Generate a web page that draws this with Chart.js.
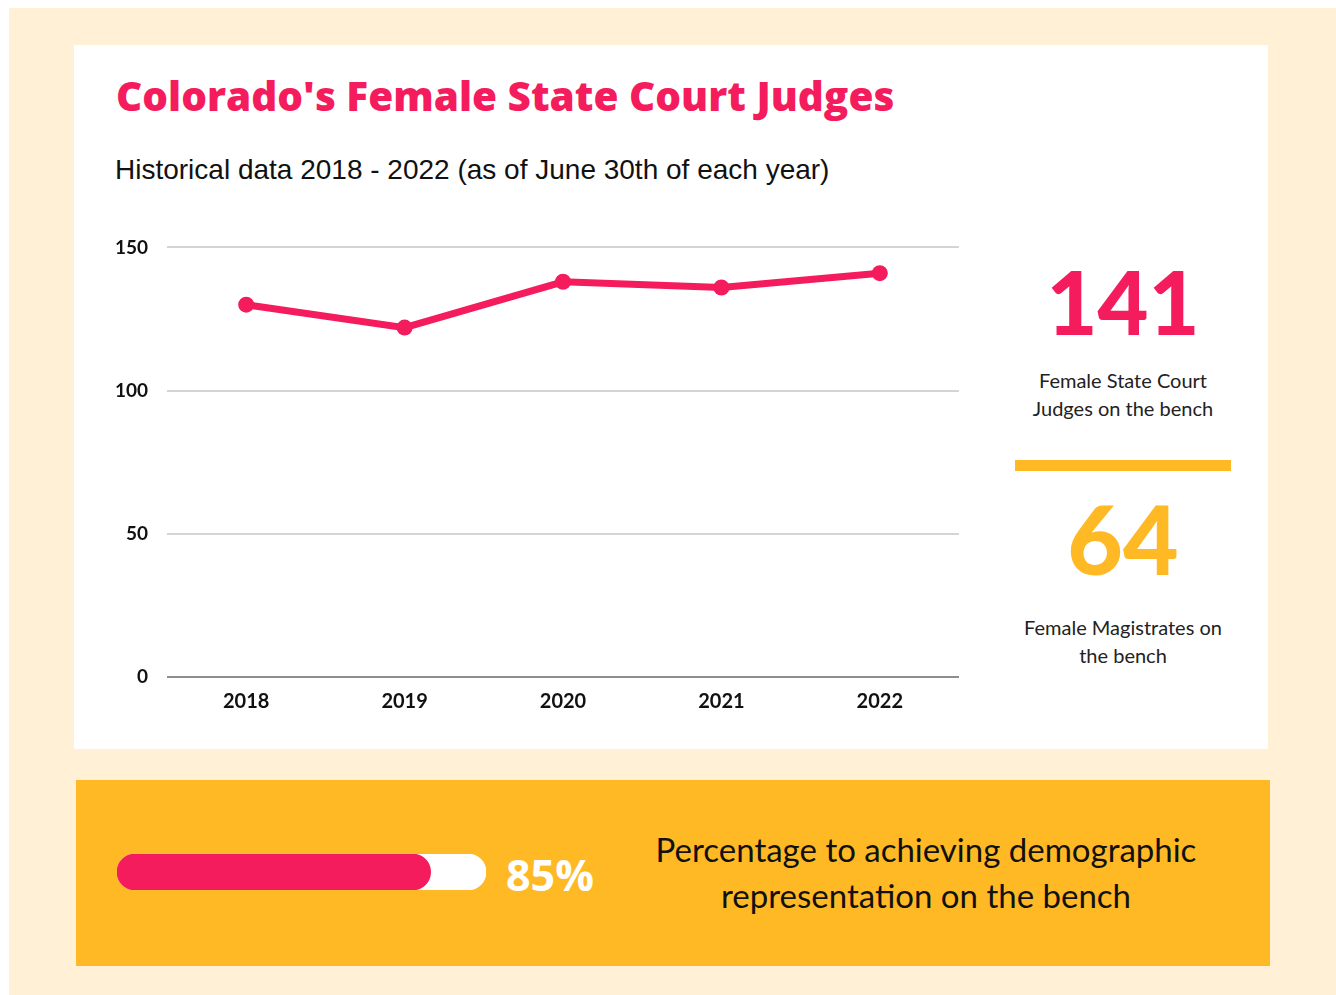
<!DOCTYPE html>
<html>
<head>
<meta charset="utf-8">
<script src="https://cdn.jsdelivr.net/npm/chart.js@4.4.0/dist/chart.umd.min.js"></script>
<style>
    body { margin: 0; background: #ffffff; width: 1336px; height: 995px; position: relative; overflow: hidden; }
    .cream { position: absolute; left: 9px; top: 8px; width: 1327px; height: 987px; background: #FFF0D6; }
    .card { position: absolute; left: 74px; top: 45px; width: 1194px; height: 704px; background: #ffffff; }
    .band { position: absolute; left: 76px; top: 780px; width: 1194px; height: 186px; background: #FFB925; }
    .title { position: absolute; left: 116px; top: 68px; font-family: 'Open Sans', sans-serif; font-weight: 800; font-size: 40.5px; color: #F41C5D; white-space: nowrap; }
    .subtitle { position: absolute; left: 115px; top: 154px; font-family: 'Liberation Sans', Arial, sans-serif; font-size: 28px; color: #111; white-space: nowrap; }
    .big { position: absolute; font-family: Lato, sans-serif; font-weight: 900; text-align: center; width: 260px; left: 993px; }
    .note { position: absolute; font-family: Lato, sans-serif; font-size: 20px; line-height: 28px; color: #222; text-align: center; width: 260px; left: 993px; }
    .divider { position: absolute; left: 1015px; top: 460px; width: 216px; height: 11px; background: #FFB925; }
    .pct { position: absolute; left: 506px; top: 845px; font-family: 'Open Sans', sans-serif; font-weight: 700; font-size: 43px; color: #ffffff; }
    .caption { position: absolute; left: 626px; top: 826px; width: 600px; text-align: center; font-family: Lato, sans-serif; font-size: 33px; line-height: 46px; color: #111; }
    #chartBox { position: absolute; left: 100px; top: 217px; width: 870px; height: 508px; }
    #barBox { position: absolute; left: 117px; top: 854px; width: 369px; height: 36px; }
</style>
</head>
<body>
<div class="cream"></div>
<div class="card"></div>
<div class="band"></div>

<div class="title">Colorado's Female State Court Judges</div>
<div class="subtitle">Historical data 2018 - 2022 (as of June 30th of each year)</div>

<div id="chartBox"><canvas id="judgesChart"></canvas></div>

<div class="big" style="top: 248px; font-size: 88px; color: #F41C5D;">141</div>
<div class="note" style="top: 366px;">Female State Court<br>Judges on the bench</div>
<div class="divider"></div>
<div class="big" style="top: 480px; font-size: 96px; color: #FFB925;">64</div>
<div class="note" style="top: 613px;">Female Magistrates on<br>the bench</div>

<div id="barBox"><canvas id="progressChart"></canvas></div>
<div class="pct">85%</div>
<div class="caption">Percentage to achieving demographic<br>representation on the bench</div>

<script>
const years = ['2018', '2019', '2020', '2021', '2022'];
const femaleJudges = [130, 122, 138, 136, 141];
const yTicks = [0, 50, 100, 150];
const progressDone = [85];
const progressTotal = [100];

const PINK = '#F41C5D';

new Chart(document.getElementById('judgesChart'), {
    type: 'line',
    data: {
        labels: years,
        datasets: [{
            data: femaleJudges,
            borderColor: PINK,
            backgroundColor: PINK,
            borderWidth: 7,
            pointRadius: 8,
            pointHoverRadius: 8,
            pointBackgroundColor: PINK,
            pointBorderWidth: 0,
            tension: 0
        }]
    },
    options: {
        responsive: true,
        maintainAspectRatio: false,
        animation: false,
        layout: { padding: { top: 14, right: 11, left: 0, bottom: 0 } },
        plugins: {
            legend: { display: false },
            tooltip: { enabled: false }
        },
        scales: {
            x: {
                offset: true,
                grid: { display: false },
                border: { display: false },
                ticks: {
                    color: '#111',
                    padding: 5,
                    maxRotation: 0,
                    font: { family: 'Lato', size: 20, weight: 'bold' }
                },
                afterFit: function(scale) { scale.height = 48; }
            },
            y: {
                min: 0,
                max: 150,
                afterBuildTicks: function(scale) {
                    scale.ticks = yTicks.map(v => ({ value: v }));
                },
                grid: {
                    drawTicks: false,
                    lineWidth: 2,
                    color: function(ctx) {
                        return ctx.tick && ctx.tick.value === 0 ? '#8e8e8e' : '#d5d5d5';
                    }
                },
                border: { display: false },
                ticks: {
                    color: '#111',
                    padding: 19,
                    font: { family: 'Lato', size: 19, weight: 'bold' }
                },
                afterFit: function(scale) { scale.width = 67; }
            }
        }
    }
});

new Chart(document.getElementById('progressChart'), {
    type: 'bar',
    data: {
        labels: [''],
        datasets: [
            {
                data: progressDone,
                backgroundColor: PINK,
                borderRadius: 18,
                borderSkipped: false,
                barPercentage: 1,
                categoryPercentage: 1,
                grouped: false
            },
            {
                data: progressTotal,
                backgroundColor: '#ffffff',
                borderRadius: 18,
                borderSkipped: false,
                barPercentage: 1,
                categoryPercentage: 1,
                grouped: false
            }
        ]
    },
    options: {
        indexAxis: 'y',
        responsive: true,
        maintainAspectRatio: false,
        animation: false,
        layout: { padding: 0 },
        plugins: {
            legend: { display: false },
            tooltip: { enabled: false }
        },
        scales: {
            x: { display: false, min: 0, max: 100 },
            y: { display: false }
        }
    }
});
</script>
</body>
</html>
